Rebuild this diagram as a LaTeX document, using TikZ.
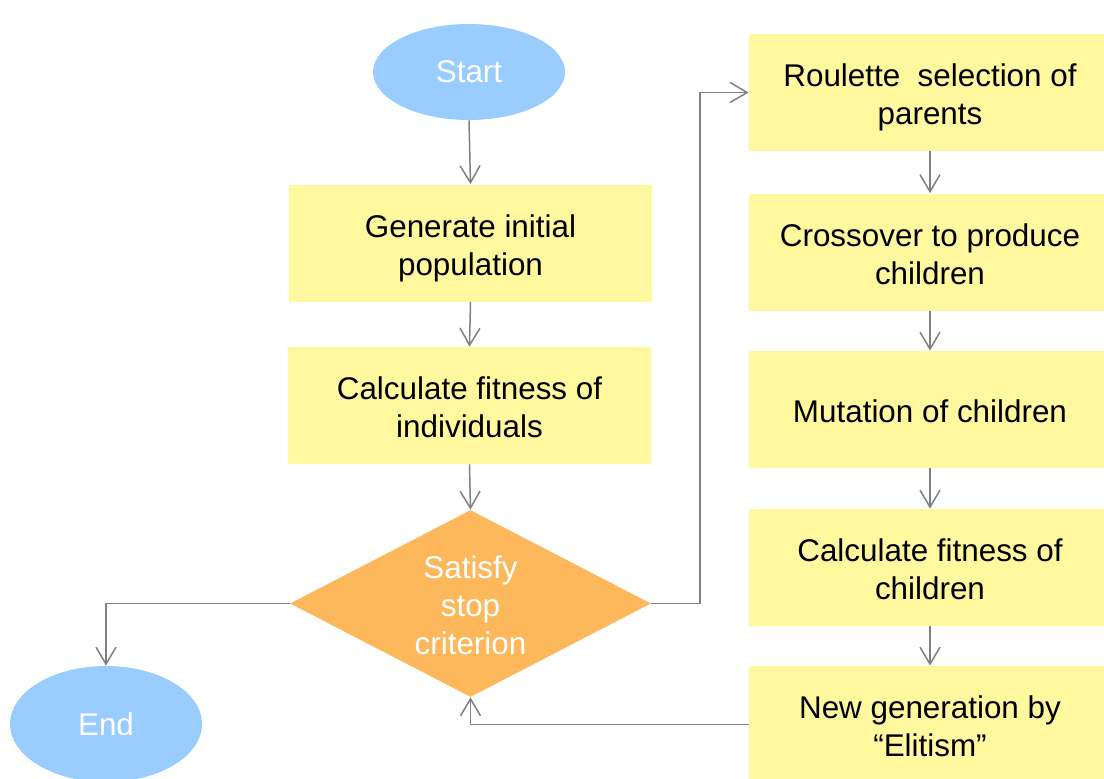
\documentclass[tikz,border=0pt]{standalone}
\usepackage{fontspec}
\setmainfont{Liberation Sans}
\usetikzlibrary{shapes.geometric,arrows.meta}
\definecolor{boxy}{HTML}{FFF89E}
\definecolor{elb}{HTML}{99CCFF}
\definecolor{dor}{HTML}{FDB85C}
\definecolor{lg}{HTML}{808080}
\newcommand{\topst}{\rule{0pt}{16.5pt}}
\newcommand{\botst}{\rule[-3.5pt]{0pt}{0pt}}
\begin{document}
\begin{tikzpicture}[x=0.5pt,y=-0.5pt,
  txt/.style={font=\fontsize{15.7}{19}\selectfont, align=center},
  box/.style={txt, rectangle, fill=boxy, draw=none, minimum width=181.5pt, minimum height=58.5pt, inner sep=0pt, text=black},
  rbox/.style={box, minimum width=181pt},
  term/.style={txt, ellipse, fill=elb, draw=none, minimum width=96pt, inner sep=0pt, text=white},
  dia/.style={diamond, fill=dor, draw=none, minimum width=180.5pt, minimum height=93.5pt, inner sep=0pt},
  conn/.style={draw=lg, line width=0.75pt, -{Straight Barb[length=8.5pt,width=10pt]}}
]
\useasboundingbox (0,0) rectangle (1104,778);
\clip (0,0) rectangle (1104,778);

\node[term, minimum height=48pt] (start) at (469,72) {Start};
\node[box] (gen) at (470.5,243) {\topst Generate initial\\population\botst};
\node[box] (calc) at (469.5,405.5) {\topst Calculate fitness of\\individuals\botst};
\node[dia] (d) at (470.5,603.5) {};
\node[txt, text=white] (dt) at (470.5,605) {Satisfy\\stop\\criterion};
\node[term, minimum height=58pt] (end) at (106,724) {End};

\node[rbox] (r1) at (930,92.5) {\topst Roulette~~selection of\\parents\botst};
\node[rbox] (r2) at (930,252) {\topst Crossover to produce\\children\botst};
\node[rbox] (r3) at (930,409.5) {\topst Mutation of children\botst};
\node[rbox] (r4) at (930,567.5) {\topst Calculate fitness of\\children\botst};
\node[rbox] (r5) at (930,724.5) {\topst New generation by\\“Elitism”\botst};

\draw[conn] (start.south) -- (gen.north);
\draw[conn] (gen.south) -- (calc.north);
\draw[conn] (calc.south) -- (d.north);
\draw[conn] (d.west) -| (end.north);
\draw[conn] (d.east) -- (700,603.5) |- (r1.west);
\draw[conn] (r1.south) -- (r2.north);
\draw[conn] (r2.south) -- (r3.north);
\draw[conn] (r3.south) -- (r4.north);
\draw[conn] (r4.south) -- (r5.north);
\draw[conn] (r5.west) -| (d.south);
\end{tikzpicture}
\end{document}
